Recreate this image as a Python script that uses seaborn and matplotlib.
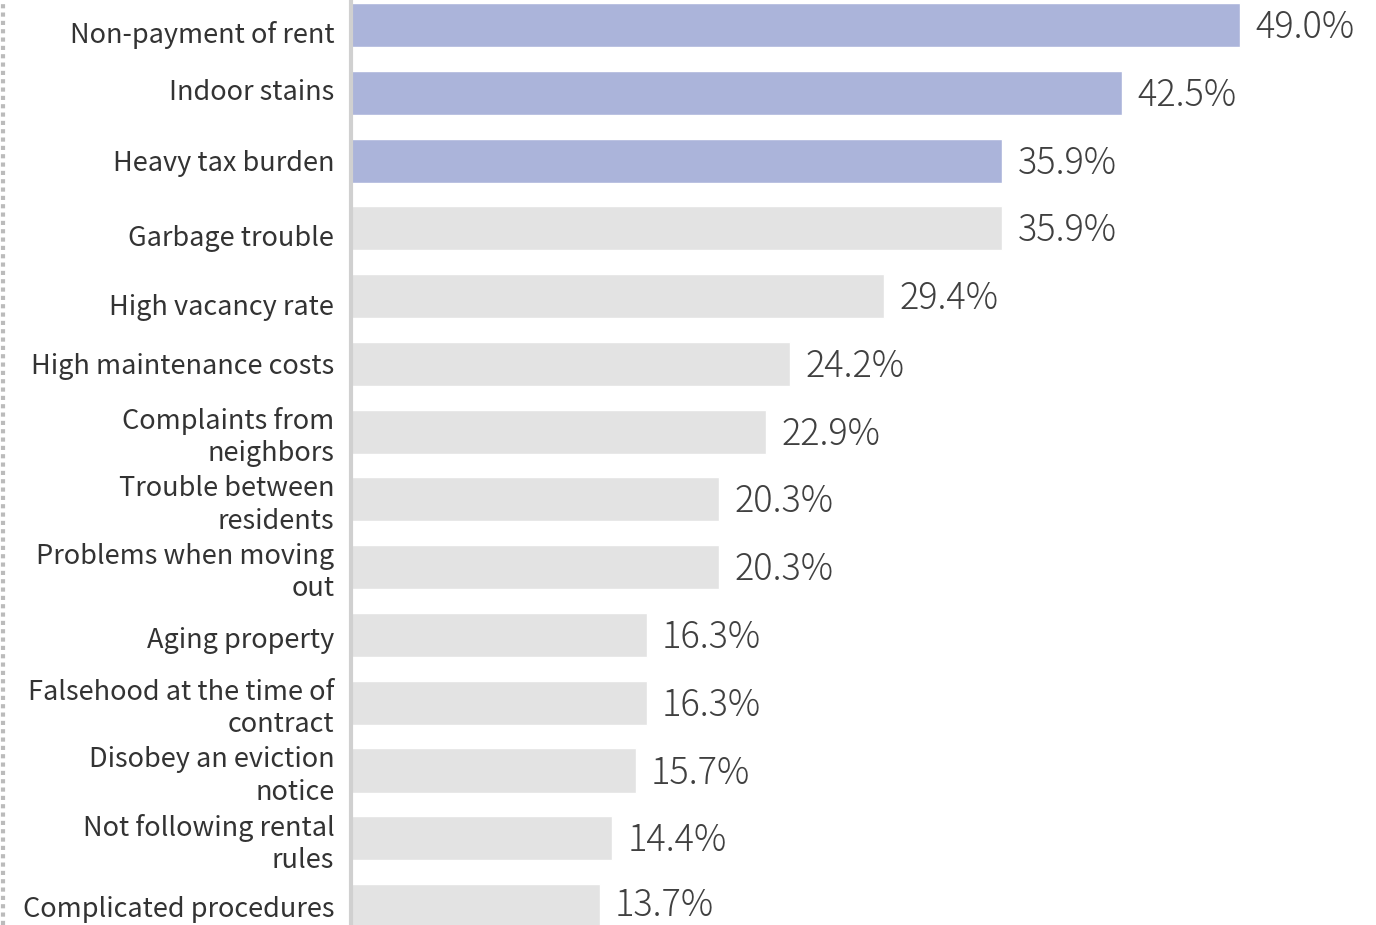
import numpy as np
import pandas as pd
import seaborn as sns
import matplotlib.pyplot as plt
from matplotlib.lines import Line2D
from matplotlib.transforms import ScaledTranslation

# Dati del grafico
categories = [
    "Non-payment of rent", "Indoor stains", "Heavy tax burden", "Garbage trouble",
    "High vacancy rate", "High maintenance costs", "Complaints from\nneighbors",
    "Trouble between\nresidents", "Problems when moving\nout", "Aging property",
    "Falsehood at the time of\ncontract", "Disobey an eviction\nnotice",
    "Not following rental\nrules", "Complicated procedures",
]
values = [49.0, 42.5, 35.9, 35.9, 29.4, 24.2, 22.9, 20.3, 20.3, 16.3, 16.3, 15.7, 14.4, 13.7]
highlight = ["top"] * 3 + ["other"] * 11

df = pd.DataFrame({"cat": categories, "val": values, "grp": highlight})

sns.set_theme(style="white")
plt.rcParams['font.family'] = ['Noto Sans CJK JP', 'DejaVu Sans']

fig = plt.figure(figsize=(13.76, 9.25), dpi=100)
ax = fig.add_axes([351 / 1376, 0, 1 - 351 / 1376, 1])

sns.barplot(data=df, x="val", y="cat", hue="grp", orient="h", dodge=False,
            palette={"top": "#abb4da", "other": "#e3e3e3"}, width=0.65,
            legend=False, ax=ax, saturation=1)

# etichette dei valori, leggermente abbassate (tranne l'ultima, vicino al bordo)
for cont in ax.containers:
    texts = ax.bar_label(cont, fmt="%.1f%%", padding=11, fontsize=26,
                         color="#404040", fontweight="light")
    for t in texts:
        if t.get_text() != "13.7%":
            x0, y0 = t.xyann
            t.xyann = (x0, y0 - 2)

ax.set_xlim(0, (1376 - 351) / 18.14)
ax.set_ylim(13.28, -0.37)
ax.set_xlabel("")
ax.set_ylabel("")
ax.set_xticks([])
ax.tick_params(axis="y", length=0, pad=12, labelsize=19.5, labelcolor="#333333")

# piccoli spostamenti verticali delle etichette (in pixel, verso il basso)
shift = {"Non-payment of rent": 7, "Indoor stains": -3, "Garbage trouble": 7,
         "High vacancy rate": 8, "Aging property": 3}
for lab in ax.get_yticklabels():
    lab.set_linespacing(1.25)
    dy = shift.get(lab.get_text(), 0)
    if dy:
        off = ScaledTranslation(0, -dy / 100, fig.dpi_scale_trans)
        lab.set_transform(lab.get_transform() + off)

for s in ["top", "right", "bottom"]:
    ax.spines[s].set_visible(False)
ax.spines["left"].set_color("#d0d0d0")
ax.spines["left"].set_linewidth(3)

# bordo tratteggiato a sinistra
fig.add_artist(Line2D([3 / 1376, 3 / 1376], [0, 1], transform=fig.transFigure,
                      color="#bbbbbb", linewidth=3, linestyle=(0, (1, 1))))

fig.savefig("out.png", dpi=100)
